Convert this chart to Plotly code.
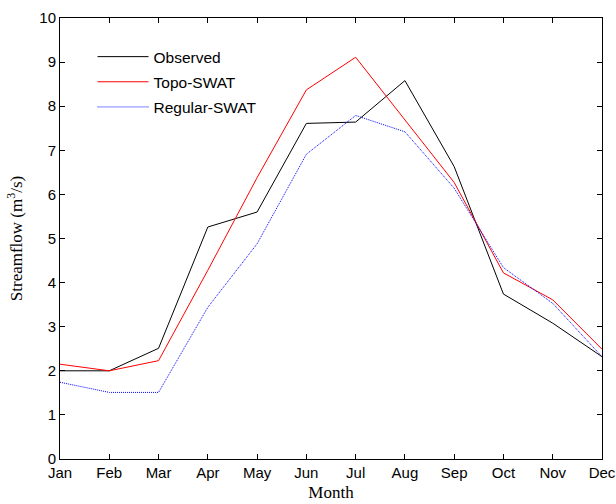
import plotly.graph_objects as go

months = ["Jan", "Feb", "Mar", "Apr", "May", "Jun", "Jul", "Aug", "Sep", "Oct", "Nov", "Dec"]
observed = [2.0, 2.0, 2.51, 5.26, 5.6, 7.61, 7.64, 8.58, 6.63, 3.74, 3.08, 2.32]
topo_swat = [2.15, 2.0, 2.23, 4.28, 6.38, 8.37, 9.11, 7.68, 6.27, 4.22, 3.61, 2.49]
regular_swat = [1.74, 1.51, 1.51, 3.44, 4.88, 6.91, 7.79, 7.42, 6.14, 4.34, 3.53, 2.32]
y_ticks = list(range(0, 11))

fig = go.Figure()
fig.add_trace(go.Scatter(x=months, y=observed, mode="lines", name="Observed", legendgroup="a",
                         line=dict(color="black", width=1)))
fig.add_trace(go.Scatter(x=months, y=topo_swat, mode="lines", name="Topo-SWAT", legendgroup="b",
                         line=dict(color="red", width=1)))
fig.add_trace(go.Scatter(x=months, y=regular_swat, mode="lines", name="Regular-SWAT", legendgroup="c",
                         line=dict(color="blue", width=1, dash="1px,1px")))

fig.update_layout(
    width=616, height=504,
    margin=dict(l=60, r=14, t=18, b=45),
    paper_bgcolor="white", plot_bgcolor="white",
    font=dict(family="Liberation Sans, Arial", size=15, color="black"),
    showlegend=True,
    legend=dict(x=0.06, y=0.95, xanchor="left", yanchor="top",
                bgcolor="rgba(255,255,255,0)", borderwidth=0, traceorder="grouped",
                font=dict(size=15.5), tracegroupgap=2, itemwidth=51),
    xaxis=dict(type="category", range=[0, 11], showgrid=False, zeroline=False,
               showline=True, linecolor="black", linewidth=1, mirror="ticks",
               ticks="inside", ticklen=5, tickcolor="black", automargin=False,
               title=dict(text="Month", font=dict(family="Liberation Serif, Times New Roman", size=17), standoff=6)),
    yaxis=dict(range=[0, 10], tickvals=y_ticks, showgrid=False, zeroline=False,
               showline=True, linecolor="black", linewidth=1, mirror="ticks",
               ticks="inside", ticklen=5, tickcolor="black", automargin=False,
               title=dict(text="Streamflow (m<sup>3</sup>/s)", font=dict(family="Liberation Serif, Times New Roman", size=17), standoff=12)),
)

fig.write_html("out.html")
